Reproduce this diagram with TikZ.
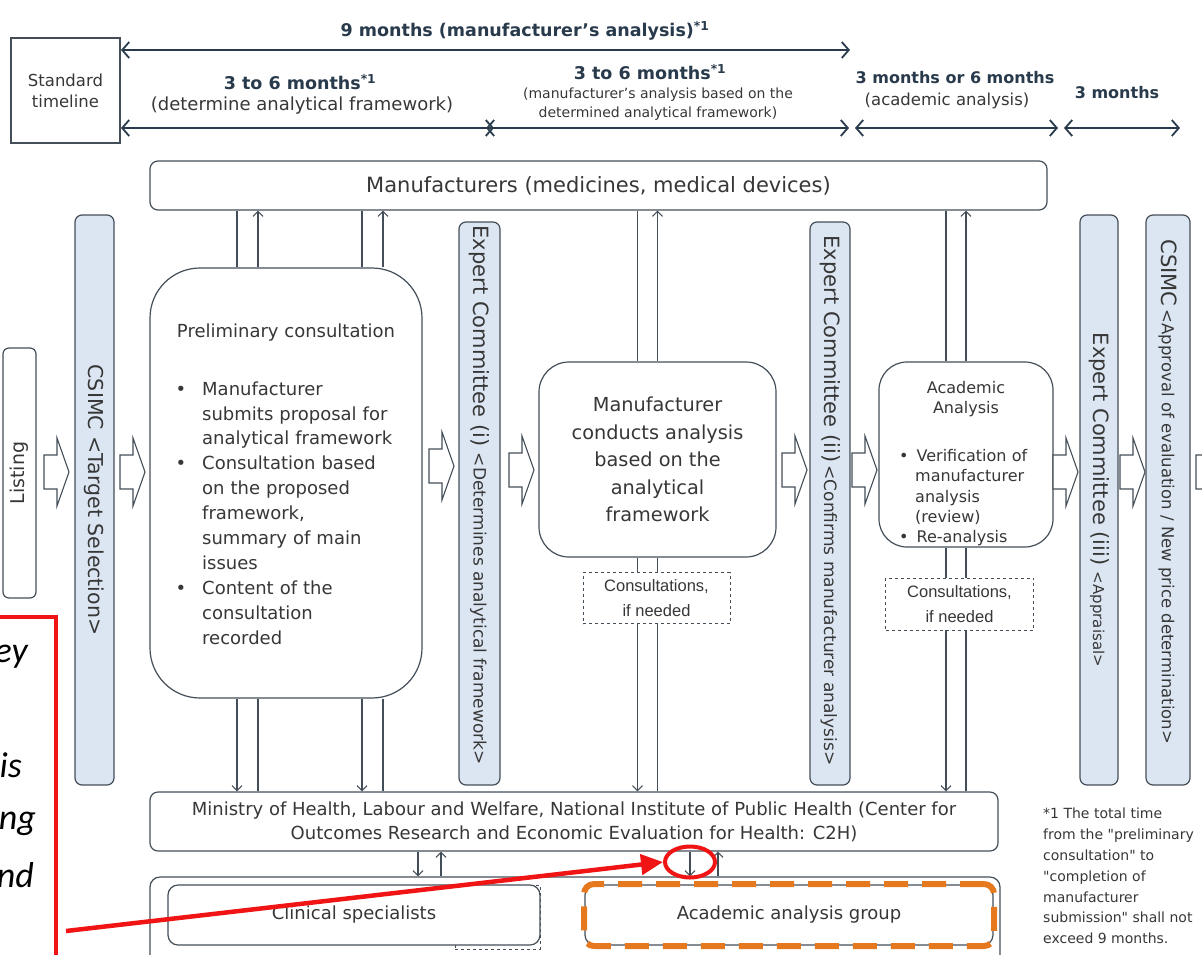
\documentclass[tikz,border=0pt]{standalone}
\usepackage{fontspec}
\setmainfont{DejaVu Sans}
\newfontfamily\notefont{Carlito}
\newfontfamily\narrowfont{Liberation Sans}
\usetikzlibrary{arrows.meta,shapes.geometric}

\definecolor{lncol}{RGB}{68,78,88}
\definecolor{txtcol}{RGB}{55,55,55}
\definecolor{barblue}{RGB}{220,230,242}
\definecolor{tlcol}{RGB}{40,58,75}
\definecolor{orangec}{RGB}{230,120,30}
\definecolor{redc}{RGB}{240,20,20}

\newcommand{\fsz}[2]{\fontsize{#1pt}{#2pt}\selectfont}
% hollow block arrow: tail x, centre y
\newcommand{\hollowarrow}[2]{%
  \draw[lncol, line width=1.1pt, fill=white, line join=miter]
    (#1,#2-17) -- ++(13,0) -- ++(0,-17) -- ++(12,34) -- ++(-12,34) -- ++(0,-17) -- ++(-13,0) -- cycle;}

\tikzset{
  rbox/.style={draw=lncol, line width=1.2pt, fill=white, rounded corners=#1, inner sep=0pt, text=txtcol},
  rbox/.default=8pt,
  cbar/.style={draw=lncol, line width=1.2pt, fill=barblue, rounded corners=7pt, inner sep=0pt},
  vtext/.style={rotate=-90, text=txtcol, inner sep=0pt},
  askbox/.style={draw=lncol, dashed, line width=0.9pt, fill=white, inner sep=0pt, text=txtcol},
  conn/.style={draw=lncol, line width=1.1pt},
  headend/.style={-{Straight Barb[length=5pt,width=10pt]}},
  tline/.style={draw=tlcol, line width=1.8pt, {Straight Barb[length=7pt,width=16pt]}-{Straight Barb[length=7pt,width=16pt]}},
  tlbold/.style={text=tlcol, font=\bfseries\fsz{17.5}{20}, inner sep=0pt},
  tlnorm/.style={text=txtcol, font=\fsz{18}{20}, inner sep=0pt},
  redword/.style={font=\notefont\itshape\fsz{36}{40}, inner sep=0pt, text=black},
}

\begin{document}
\begin{tikzpicture}[x=1pt,y=-1pt]
\useasboundingbox (0,0) rectangle (1202,954);
\clip (0,0) rectangle (1202,954);

% timeline
\node[draw=lncol, line width=1.3pt, minimum width=109pt, minimum height=105pt, align=center, text=txtcol, font=\fsz{16.5}{21}] (std) at (65.5,90.5) {Standard\\timeline};
\coordinate (t9a) at (121,50);
\coordinate (t9b) at (850,50);
\draw[tline] (t9a) -- (t9b);
\coordinate (s0) at (121,128);
\coordinate (s1a) at (494,128);
\coordinate (s1b) at (486,128);
\coordinate (s2a) at (849,128);
\coordinate (s2b) at (855,128);
\coordinate (s3a) at (1058,128);
\coordinate (s3b) at (1064,128);
\coordinate (s4) at (1180,128);
\draw[tline] (s0) -- (s1a);
\draw[tline] (s1b) -- (s2a);
\draw[tline] (s2b) -- (s3a);
\draw[tline] (s3b) -- (s4);
\node[tlbold] (lbl9) at (525,31) {9 months (manufacturer's analysis)\textsuperscript{*1}};
\node[tlbold] (lbl1) at (300,82) {3 to 6 months\textsuperscript{*1}};
\node[tlnorm] (sub1) at (302,106) {(determine analytical framework)};
\node[tlbold] (lbl2) at (650,72) {3 to 6 months\textsuperscript{*1}};
\node[tlnorm, align=center, font=\fsz{14}{19}] (sub2) at (658,104) {(manufacturer's analysis based on the\\determined analytical framework)};
\node[tlbold, font=\bfseries\fsz{16}{18}] (lbl3) at (955,78) {3 months or 6 months};
\node[tlnorm, font=\fsz{16.5}{18}] (sub3) at (947,101) {(academic analysis)};
\node[tlbold, font=\bfseries\fsz{16}{18}] (lbl4) at (1117,93) {3 months};

% manufacturers
\node[rbox, minimum width=897pt, minimum height=49pt, font=\fsz{21}{24}] (manu) at (598.5,185.5) {Manufacturers (medicines, medical devices)};

% listing and committee bars
\node[rbox=6pt, minimum width=33pt, minimum height=250pt] (listing) at (19.5,473) {};
\node[rotate=90, text=txtcol, inner sep=0pt, font=\fsz{19}{20}] (listingtxt) at (listing.center) {Listing};
\node[cbar, minimum width=39pt, minimum height=570pt] (csimcA) at (94.5,500) {};
\node[vtext, font=\fsz{20.5}{22}] (csimcAtxt) at (csimcA.center) {CSIMC <Target Selection>};
\node[cbar, minimum width=41pt, minimum height=563pt] (ecA) at (479.5,503.5) {};
\node[vtext, anchor=west] (ecAtxt) at ([yshift=-4pt]ecA.north) {{\fsz{21}{22}Expert Committee (i)}\ \ {\fsz{17}{18}<Determines analytical framework>}};
\node[cbar, minimum width=40pt, minimum height=563pt] (ecB) at (830,503.5) {};
\node[vtext, anchor=west] (ecBtxt) at ([yshift=-14pt]ecB.north) {{\fsz{21}{22}Expert Committee (ii)}\ {\fsz{17}{18}<Confirms manufacturer analysis>}};
\node[cbar, minimum width=38pt, minimum height=570pt] (ecC) at (1099,500) {};
\node[vtext] (ecCtxt) at (ecC.center) {{\fsz{21}{22}Expert Committee (iii)}\ \ {\fsz{15}{17}<Appraisal>}};
\node[cbar, minimum width=44pt, minimum height=570pt] (csimcB) at (1168,500) {};
\node[vtext, anchor=west] (csimcBtxt) at ([yshift=-25pt]csimcB.north) {{\fsz{21}{22}CSIMC}\ {\fsz{16.5}{17}<Approval of evaluation / New price determination>}};

% process boxes
\node[rbox=50pt, minimum width=272pt, minimum height=430pt] (prelim) at (286,483) {};
\node[text=txtcol, inner sep=0pt, font=\fsz{18}{25}] (prelimttl) at (286,333) {Preliminary consultation};
\node[anchor=north west, text width=240pt, text=txtcol, inner sep=0pt, font=\fsz{18}{24.9}] (prelimlist) at (166,370) {%
  \begin{list}{\textbullet}{\setlength{\leftmargin}{36pt}\setlength{\labelwidth}{14pt}\setlength{\labelsep}{16pt}%
    \setlength{\itemsep}{0pt}\setlength{\parsep}{0pt}\setlength{\topsep}{0pt}\setlength{\partopsep}{0pt}}
  \item Manufacturer\\submits proposal for\\analytical framework
  \item Consultation based\\on the proposed\\framework,\\summary of main\\issues
  \item Content of the\\consultation\\recorded
  \end{list}};
\node[rbox=30pt, minimum width=237pt, minimum height=195pt, align=center, font=\fsz{19.3}{27.5}] (mfa) at (657.5,459.5) {Manufacturer\\conducts analysis\\based on the\\analytical\\framework};
\node[rbox=28pt, minimum width=174pt, minimum height=185pt] (acad) at (966,454.5) {};
\node[text=txtcol, align=center, inner sep=0pt, font=\fsz{16}{20}] (acadttl) at (966,399) {Academic\\Analysis};
\node[anchor=north west, text width=140pt, text=txtcol, inner sep=0pt, font=\fsz{16}{20.3}] (acadlist) at (897,441) {%
  \begin{list}{\textbullet}{\setlength{\leftmargin}{18pt}\setlength{\labelwidth}{8pt}\setlength{\labelsep}{8pt}%
    \setlength{\itemsep}{0pt}\setlength{\parsep}{0pt}\setlength{\topsep}{0pt}\setlength{\partopsep}{0pt}}
  \item Verification of\\manufacturer\\analysis\\(review)
  \item Re-analysis
  \end{list}};

% ministry and groups
\node[rbox, minimum width=848pt, minimum height=59pt, align=center, font=\fsz{18}{24}] (mhlw) at (574,821.5) {Ministry of Health, Labour and Welfare, National Institute of Public Health (Center for\\Outcomes Research and Economic Evaluation for Health: C2H)};
\node[rbox=10pt, minimum width=850pt, minimum height=90pt] (grp) at (575,922) {};
\node[askbox, minimum width=85pt, minimum height=64pt] (hidbox) at (497.5,917) {};
\node[rbox=10pt, minimum width=372pt, minimum height=60pt, font=\fsz{18}{20}] (clin) at (354,915) {Clinical specialists};
\node[rbox=10pt, minimum width=408pt, minimum height=60pt, font=\fsz{18}{20}] (aag) at (789,915) {Academic analysis group};
\node[draw=orangec, line width=6pt, dash pattern=on 24pt off 14pt, rounded corners=10pt, minimum width=410pt, minimum height=62pt] (aagmark) at (789,915) {};

% connectors
\draw[conn] ([xshift=-49pt]prelim.north) -- ([xshift=-49pt]prelim.north |- manu.south);
\draw[conn,headend] ([xshift=-28pt]prelim.north) -- ([xshift=-28pt]prelim.north |- manu.south);
\draw[conn] ([xshift=76pt]prelim.north) -- ([xshift=76pt]prelim.north |- manu.south);
\draw[conn,headend] ([xshift=97pt]prelim.north) -- ([xshift=97pt]prelim.north |- manu.south);
\draw[conn,headend] ([xshift=-49pt]prelim.south) -- ([xshift=-49pt]prelim.south |- mhlw.north);
\draw[conn] ([xshift=-28pt]prelim.south) -- ([xshift=-28pt]prelim.south |- mhlw.north);
\draw[conn,headend] ([xshift=76pt]prelim.south) -- ([xshift=76pt]prelim.south |- mhlw.north);
\draw[conn] ([xshift=97pt]prelim.south) -- ([xshift=97pt]prelim.south |- mhlw.north);

\draw[conn] ([xshift=-20pt]mfa.north) -- ([xshift=-20pt]mfa.north |- manu.south);
\draw[conn,headend] (mfa.north) -- (mfa.north |- manu.south);
\draw[conn,headend] ([xshift=-20pt]mfa.south) -- ([xshift=-20pt]mfa.south |- mhlw.north);
\draw[conn] (mfa.south) -- (mfa.south |- mhlw.north);

\draw[conn] ([xshift=-20pt]acad.north) -- ([xshift=-20pt]acad.north |- manu.south);
\draw[conn,headend] (acad.north) -- (acad.north |- manu.south);
\draw[conn,headend] ([xshift=-20pt]acad.south) -- ([xshift=-20pt]acad.south |- mhlw.north);
\draw[conn] (acad.south) -- (acad.south |- mhlw.north);

\node[askbox, minimum width=147pt, minimum height=51pt, align=center, font=\narrowfont\fsz{16.5}{25}] (consA) at (656.5,598) {Consultations,\\if needed};
\node[askbox, minimum width=148pt, minimum height=52pt, align=center, font=\narrowfont\fsz{16.5}{25}] (consB) at (959.5,604) {Consultations,\\if needed};

\draw[conn,headend] ([xshift=-156pt]mhlw.south) -- ([xshift=-156pt]mhlw.south |- grp.north);
\draw[conn,headend] ([xshift=-133pt]mhlw.south |- grp.north) -- ([xshift=-133pt]mhlw.south);
\draw[conn,headend] ([xshift=116pt]mhlw.south) -- ([xshift=116pt]mhlw.south |- grp.north);
\draw[conn,headend] ([xshift=144pt]mhlw.south |- grp.north) -- ([xshift=144pt]mhlw.south);

% block arrows
\hollowarrow{44}{472}
\hollowarrow{120}{472}
\hollowarrow{429}{466}
\hollowarrow{509}{470}
\hollowarrow{782}{470}
\hollowarrow{852}{470}
\hollowarrow{1053}{472}
\hollowarrow{1120}{472}
\hollowarrow{1196}{472}

% footnote
\node[anchor=north west, align=left, inner sep=0pt, text=txtcol, font=\fsz{14}{20.8}] (note) at (1043,808) {*1 The total time\\from the \textquotedbl preliminary\\consultation\textquotedbl{} to\\\textquotedbl completion of\\manufacturer\\submission\textquotedbl{} shall not\\exceed 9 months.};

% red annotation
\draw[redc, line width=4.7pt] (-10,617) -- (56,617) -- (56,970);
\node[redword, anchor=base east] (wey) at (28,662) {ey};
\node[redword, anchor=base east] (wis) at (22,777) {is};
\node[redword, anchor=base east] (wng) at (36,829) {ng};
\node[redword, anchor=base east] (wnd) at (34,887) {nd};
\node[draw=redc, ellipse, line width=4pt, minimum width=50pt, minimum height=31pt, inner sep=0pt] (ring) at (690,862) {};
\coordinate (redstart) at (66,931);
\draw[redc, line width=4.5pt, -{Triangle[length=22pt,width=20pt]}] (redstart) -- (ring.west);
\end{tikzpicture}
\end{document}
